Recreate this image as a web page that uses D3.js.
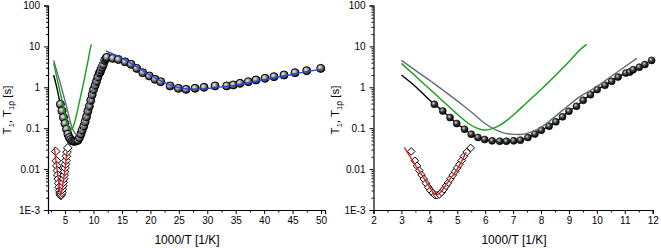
<!DOCTYPE html>
<html><head><meta charset="utf-8">
<script src="https://cdn.jsdelivr.net/npm/d3@7"></script>
<style>body{margin:0;background:#fff}svg{display:block;font-family:"Liberation Sans",Arial,sans-serif}</style>
</head><body>
<svg id="c" width="661" height="248"></svg>
<script>
// ---- data ----
const yTickValues = [1e-3, 0.01, 0.1, 1, 10, 100];
const yTickLabels = ["1E-3", "0.01", "0.1", "1", "10", "100"];
const xTicksLeft = [5, 10, 15, 20, 25, 30, 35, 40, 45, 50];
const xTicksRight = [2, 3, 4, 5, 6, 7, 8, 9, 10, 11, 12];
const xLabel = "1000/T [1/K]";

// T1rho data (spheres): [1000/T, seconds]
const t1rhoX = [4.18,4.48,4.74,4.98,5.26,5.50,5.74,5.98,6.25,6.52,6.76,7.02,7.26,7.53,7.78,8.01,8.29,8.53,8.77,9.00,9.27,9.51,9.77,10.01,10.29,10.53,10.76,11.04,11.18,11.30,11.52,11.72,11.96,12.15,12.33,13.38,14.37,15.55,16.60,17.60,18.66,19.82,20.82,21.82,23.46,24.92,26.27,27.85,29.43,31.37,33.42,34.58,35.76,37.22,38.57,40.15,41.74,43.50,45.43,47.48,49.95];
const t1rhoY = [0.385,0.264,0.182,0.130,0.0946,0.0714,0.0593,0.053,0.049,0.048,0.048,0.049,0.051,0.059,0.072,0.089,0.112,0.143,0.19,0.26,0.344,0.48,0.66,0.88,1.12,1.4,1.78,2.23,2.36,2.7,3.1,3.6,4.55,5.0,5.4,5.1,4.8,4.2,3.65,2.9,2.28,1.89,1.57,1.37,1.08,0.945,0.89,0.945,1.0,1.08,1.08,1.14,1.25,1.37,1.51,1.66,1.82,2.0,2.28,2.55,2.9];

// T1 data (diamonds)
const t1X = [3.35,3.48,3.56,3.64,3.72,3.80,3.88,3.96,4.04,4.12,4.20,4.28,4.36,4.44,4.52,4.60,4.68,4.76,4.84,4.92,5.00,5.08,5.16,5.24,5.34,5.48];
const t1Y = [0.027,0.016,0.012,0.0092,0.0072,0.0057,0.0045,0.0036,0.003,0.0026,0.0023,0.0023,0.0024,0.0027,0.0032,0.0039,0.0047,0.0058,0.0071,0.0087,0.0107,0.0131,0.0163,0.0205,0.026,0.033];

// fit curves
const blackFitX = [3.0,3.5,4.18,4.48,4.74,4.98,5.26,5.50,5.74,5.98,6.25,6.52,6.76,7.02,7.26,7.53,7.78,8.01,8.29,8.53,8.77,9.00,9.27,9.51,9.77,10.01,10.29,10.53,10.76,11.04,11.30,11.52];
const blackFitY = [2.0,1.05,0.385,0.264,0.182,0.130,0.0946,0.0714,0.0593,0.053,0.049,0.048,0.048,0.049,0.051,0.059,0.072,0.089,0.112,0.143,0.19,0.26,0.344,0.48,0.66,0.88,1.12,1.4,1.78,2.23,2.7,3.1];
const grayFitX = [3.0,3.5,4.0,4.48,5.19,5.6,5.91,6.4,6.87,7.23,7.59,7.95,8.19,8.79,9.39,9.99,10.58,11.43];
const grayFitY = [4.55,2.6,1.5,0.86,0.37,0.22,0.144,0.09,0.072,0.07,0.078,0.1,0.13,0.28,0.59,1.03,2.0,5.1];
const greenFitX = [3.0,3.5,4.0,4.5,5.0,5.44,5.7,5.95,6.2,6.5,6.8,7.1,7.4,7.7,8.0,8.5,9.0,9.39,9.63];
const greenFitY = [3.86,1.88,0.92,0.45,0.22,0.125,0.1,0.09,0.095,0.115,0.16,0.24,0.37,0.57,0.88,1.9,4.2,8.2,11.2];
const blueFitX = [12.2,14,16,18,20,22,24,26,28,30,32,35,38,41,44,47,50];
const blueFitY = [7.8,6.0,4.3,2.9,1.95,1.4,1.07,0.93,0.9,0.93,1.0,1.13,1.35,1.62,1.95,2.35,2.75];
const redFitX = [3.1,3.4,3.7,3.95,4.1,4.2,4.3,4.45,4.7,5.0,5.32];
const redFitY = [0.034,0.016,0.0077,0.0042,0.0029,0.0024,0.0024,0.003,0.0052,0.01,0.026];

const zip = (xs, ys) => xs.map((x, i) => [x, ys[i]]);

const svg = d3.select("#c");
const defs = svg.append("defs");
function ballGrad(id, c0, c1, c2) {
  const g = defs.append("radialGradient").attr("id", id).attr("cx", "38%").attr("cy", "35%").attr("r", "65%");
  g.append("stop").attr("offset", "0%").attr("stop-color", c0);
  g.append("stop").attr("offset", "45%").attr("stop-color", c1);
  g.append("stop").attr("offset", "100%").attr("stop-color", c2);
}
ballGrad("ballL", "#f0f0f0", "#8a8a8a", "#151515");
ballGrad("ballR", "#d8d8d8", "#404040", "#000000");

function panel(cfg) {
  const x = d3.scaleLinear().domain(cfg.xDomain).range(cfg.xRange);
  const y = d3.scaleLog().domain([1e-3, 100]).range([210, 5.5]);
  const g = svg.append("g");
  const inX = d => d[0] >= cfg.xDomain[0] && d[0] <= cfg.xDomain[1];
  const line = d3.line().x(d => x(d[0])).y(d => y(d[1])).curve(d3.curveMonotoneX);

  // black fit (beneath markers)
  g.append("path").datum(zip(blackFitX, blackFitY).filter(inX)).attr("d", line)
    .attr("fill", "none").attr("stroke", "#000").attr("stroke-width", 1.4);

  // spheres
  g.selectAll("circle.s").data(zip(t1rhoX, t1rhoY).filter(inX)).join("circle")
    .attr("cx", d => x(d[0])).attr("cy", d => y(d[1])).attr("r", cfg.r)
    .attr("fill", `url(#${cfg.grad})`).attr("stroke", "#000").attr("stroke-width", cfg.sw);

  // diamonds
  const ds = cfg.ds;
  g.selectAll("path.dm").data(zip(t1X, t1Y).filter(inX)).join("path")
    .attr("d", d => `M${x(d[0])},${y(d[1]) - ds}L${x(d[0]) + ds},${y(d[1])}L${x(d[0])},${y(d[1]) + ds}L${x(d[0]) - ds},${y(d[1])}Z`)
    .attr("fill", "#fff").attr("stroke", "#000").attr("stroke-width", 1);

  // fit lines on top
  const fits = [[grayFitX, grayFitY, "#5e6e7c"], [greenFitX, greenFitY, "#14a014"], [redFitX, redFitY, "#f01818"]];
  if (cfg.blue) fits.push([blueFitX, blueFitY, "#2446d8"]);
  fits.forEach(([xs, ys, c]) => {
    g.append("path").datum(zip(xs, ys).filter(inX)).attr("d", line)
      .attr("fill", "none").attr("stroke", c).attr("stroke-width", 1.4);
  });

  // axes
  const x0 = cfg.xRange[0];
  g.append("g").attr("transform", `translate(${x0},0)`)
    .call(d3.axisLeft(y).tickValues(yTickValues).tickFormat((d, i) => yTickLabels[i]).tickSize(4).tickPadding(4));
  const minorY = [];
  for (let e = -3; e < 2; e++) for (let m = 2; m <= 9; m++) minorY.push(m * Math.pow(10, e));
  g.append("g").attr("transform", `translate(${x0},0)`)
    .call(d3.axisLeft(y).tickValues(minorY).tickFormat("").tickSize(2))
    .call(a => a.select(".domain").remove());
  g.append("g").attr("transform", "translate(0,210)")
    .call(d3.axisBottom(x).tickValues(cfg.xTicks).tickFormat(d3.format("d")).tickSize(4).tickPadding(3));
  g.append("g").attr("transform", "translate(0,210)")
    .call(d3.axisBottom(x).tickValues(cfg.xMinor).tickFormat("").tickSize(2.5))
    .call(a => a.select(".domain").remove());
  g.selectAll(".domain").attr("stroke", "#000").attr("stroke-width", 1.2);
  g.selectAll(".tick line").attr("stroke", "#000");
  g.selectAll(".tick text").attr("font-size", 10).attr("fill", "#000")
    .attr("font-family", "Liberation Sans, Arial, sans-serif");

  // titles
  g.append("text").attr("x", cfg.xTitleX).attr("y", 244).attr("text-anchor", "middle")
    .attr("font-size", 12).text(xLabel);
  const yt = g.append("text").attr("transform", `translate(${cfg.yTitleX},110) rotate(-90)`)
    .attr("text-anchor", "middle").attr("font-size", 11.5);
  yt.append("tspan").text("T");
  yt.append("tspan").attr("font-size", 7.5).attr("dy", 3).text("1");
  yt.append("tspan").attr("dy", -3).text(", T");
  yt.append("tspan").attr("font-size", 7.5).attr("dy", 3).text("1");
  yt.append("tspan").attr("font-size", 8.5).text("ρ");
  yt.append("tspan").attr("dy", -3).text(" [s]");
}

const minorLeft = d3.range(2.5, 51, 5);
const minorRight = d3.range(2.5, 12, 1);
panel({xDomain: [2, 50.7], xRange: [48, 325], xTicks: xTicksLeft, xMinor: minorLeft,
       r: 4, sw: 1, grad: "ballL", ds: 4.3, blue: true, xTitleX: 187, yTitleX: 11});
panel({xDomain: [2, 12], xRange: [373.5, 652.7], xTicks: xTicksRight, xMinor: minorRight,
       r: 3.5, sw: 0.6, grad: "ballR", ds: 3.8, blue: false, xTitleX: 514, yTitleX: 339});
</script>
</body></html>
